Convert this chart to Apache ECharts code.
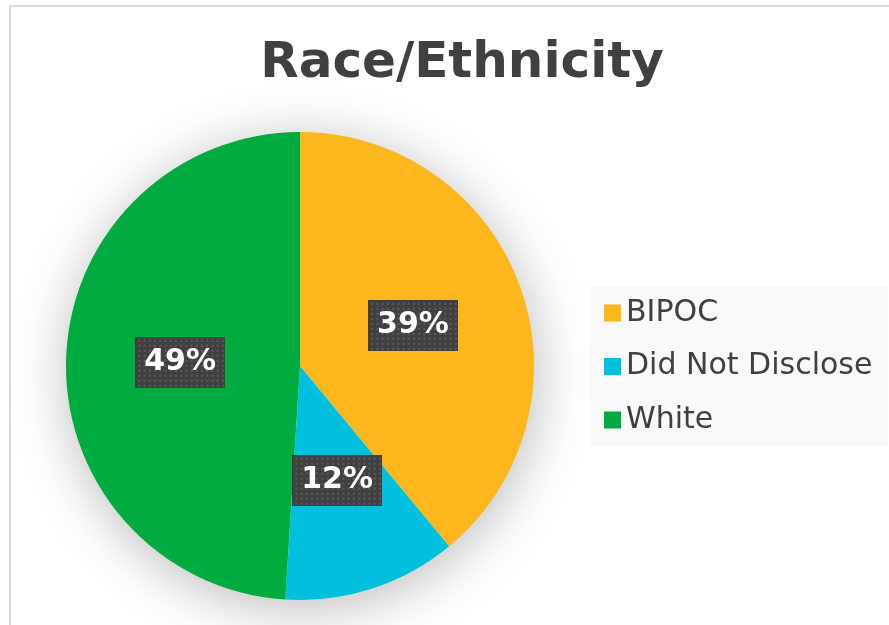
<!DOCTYPE html>
<html>
<head>
<meta charset="utf-8">
<script src="https://cdn.jsdelivr.net/npm/echarts@6/dist/echarts.min.js"></script>
<style>
  html, body { margin: 0; padding: 0; background: #fff; }
  #main { width: 889px; height: 625px; }
</style>
</head>
<body>
<div id="main"></div>
<script>
// data
var categories = ['BIPOC', 'Did Not Disclose', 'White'];
var values = [39, 12, 49];
var colors = ['#FDB71D', '#00C0DE', '#00AB3F'];

var total = values.reduce(function (a, b) { return a + b; }, 0);

// dotted dark tile for the data labels
function makeDots(w, h) {
  var c = document.createElement('canvas');
  c.width = w; c.height = h;
  var ctx = c.getContext('2d');
  ctx.fillStyle = '#404040';
  ctx.fillRect(0, 0, w, h);
  ctx.fillStyle = '#5a5a5a';
  for (var y = 3; y < h; y += 5) {
    for (var x = 3; x < w; x += 5) {
      ctx.fillRect(x, y, 2, 2);
    }
  }
  return c;
}
var dotTile = makeDots(86, 51);

var myChart = echarts.init(document.getElementById('main'));

var option = {
  backgroundColor: '#ffffff',
  animation: false,
  title: {
    text: 'Race/Ethnicity',
    left: 457,
    top: 34,
    textAlign: 'center',
    textStyle: {
      fontFamily: 'DejaVu Sans',
      fontWeight: 'bold',
      fontSize: 50,
      color: '#404040'
    }
  },
  graphic: [
    { type: 'line', shape: { x1: 10, y1: 6, x2: 10, y2: 625 }, style: { stroke: '#d9d9d9', lineWidth: 2 }, silent: true },
    { type: 'line', shape: { x1: 10, y1: 6, x2: 889, y2: 6 }, style: { stroke: '#d9d9d9', lineWidth: 2 }, silent: true },
    { type: 'rect', shape: { x: 590, y: 286, width: 298, height: 161 }, style: { fill: '#f9f9f9' }, silent: true, z: -1 }
  ],
  legend: {
    orient: 'vertical',
    left: 604,
    top: 295,
    padding: 0,
    itemWidth: 17,
    itemHeight: 17,
    itemGap: 17.5,
    itemTextGap: 9,
    icon: 'rect',
    data: categories,
    textStyle: {
      fontFamily: 'DejaVu Sans',
      fontSize: 30,
      lineHeight: 36,
      color: '#404040'
    }
  },
  series: [
    {
      // soft shadow disc behind the pie
      type: 'pie',
      silent: true,
      center: [300, 366],
      radius: 233,
      label: { show: false },
      labelLine: { show: false },
      itemStyle: {
        color: '#ffffff',
        shadowBlur: 55,
        shadowColor: 'rgba(0,0,0,0.28)',
        shadowOffsetX: 2,
        shadowOffsetY: 8
      },
      data: [{ value: total, name: '' }]
    },
    {
      type: 'pie',
      center: [300, 366],
      radius: 234,
      startAngle: 90,
      clockwise: true,
      data: categories.map(function (name, i) {
        return { name: name, value: values[i], itemStyle: { color: colors[i] } };
      }),
      itemStyle: { borderWidth: 0 },
      label: {
        show: true,
        position: 'inside',
        formatter: function (p) { return p.value + '%'; },
        fontFamily: 'DejaVu Sans',
        fontWeight: 'bold',
        fontSize: 30,
        lineHeight: 34,
        color: '#ffffff',
        backgroundColor: { image: dotTile },
        padding: [9, 9, 8, 9],
        shadowColor: 'rgba(0,0,0,0.5)',
        shadowBlur: 6,
        shadowOffsetX: 3,
        shadowOffsetY: 3
      },
      labelLine: { show: false }
    }
  ]
};

myChart.setOption(option);
</script>
</body>
</html>
